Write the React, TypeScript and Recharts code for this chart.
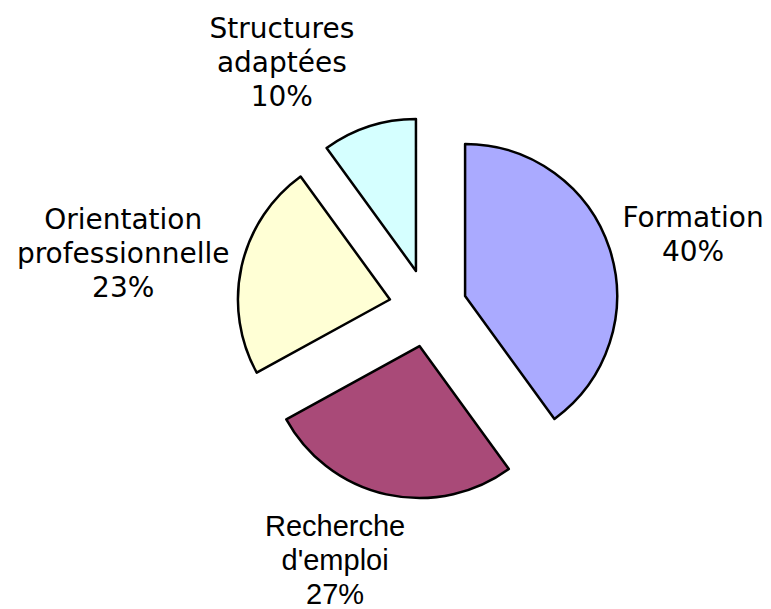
import { PieChart, Pie, Cell } from 'recharts';

// data (shares in %)
const CATEGORIES = ['Formation', "Recherche d'emploi", 'Orientation professionnelle', 'Structures adaptées'];
const SHARES = [40, 27, 23, 10];

const COLORS = ['#aaaaff', '#a94a78', '#ffffd5', '#d5ffff'];
const LABEL_FONTS = ['DejaVu Sans', 'Liberation Sans', 'DejaVu Sans', 'DejaVu Sans'];
const LABEL_SIZES = [28, 29, 28, 28];
// hand nudges, like labels dragged around in the original
const LABEL_NUDGE = [
  [4, -2],
  [-33, 7],
  [7, 0],
  [-59, -7],
];

const WIDTH = 771;
const HEIGHT = 609;
const CX = 428;
const CY = 308;
const RADIUS = 152;
const EXPLODE = 39;
const LABEL_R = 168;
const LINE = 34;

const data = CATEGORIES.map((name, i) => ({ name, value: SHARES[i] }));
const total = SHARES.reduce((a, b) => a + b, 0);

// mid angle of each slice (recharts degrees, start at 12 o'clock, clockwise)
const midAngles = SHARES.map((v, i) => {
  const before = SHARES.slice(0, i).reduce((a, b) => a + b, 0);
  return 90 - (360 * (before + v / 2)) / total;
});

const RAD = Math.PI / 180;

function makeLabel(slice: number) {
  return (props: any) => {
    if (props.index !== slice) return null;
    const { cx, cy, midAngle, outerRadius, percent, name } = props;
    const dx = Math.cos(midAngle * RAD);
    const dy = -Math.sin(midAngle * RAD);
    const lines = [...String(name).split(' '), `${Math.round(percent * 100)}%`];
    const longest = Math.max(...lines.map((l) => l.length));
    const w = longest * 15;
    const h = (lines.length - 1) * LINE + 20;
    const r = outerRadius + (LABEL_R - RADIUS);
    const lx = cx + r * dx + (w / 2) * dx + LABEL_NUDGE[slice][0];
    const ly = cy + r * dy + (h / 2) * dy + LABEL_NUDGE[slice][1];
    const first = ly - ((lines.length - 1) * LINE) / 2 + 10;
    return (
      <text
        textAnchor="middle"
        fontFamily={LABEL_FONTS[slice]}
        fontSize={LABEL_SIZES[slice]}
        fill="#000"
      >
        {lines.map((l, k) => (
          <tspan key={k} x={lx} y={first + k * LINE}>
            {l}
          </tspan>
        ))}
      </text>
    );
  };
}

export default function App() {
  return (
    <div style={{ position: 'absolute', left: 0, top: 0, width: WIDTH, height: HEIGHT, background: '#fff' }}>
      <PieChart width={WIDTH} height={HEIGHT} margin={{ top: 0, right: 0, bottom: 0, left: 0 }}>
        {midAngles.map((mid, s) => (
          <Pie
            key={s}
            data={data}
            dataKey="value"
            nameKey="name"
            cx={CX + EXPLODE * Math.cos(mid * RAD)}
            cy={CY - EXPLODE * Math.sin(mid * RAD)}
            innerRadius={0}
            outerRadius={RADIUS}
            startAngle={90}
            endAngle={-270}
            labelLine={false}
            label={makeLabel(s)}
            isAnimationActive={false}
          >
            {data.map((d, i) => (
              <Cell
                key={d.name}
                fill={i === s ? COLORS[i] : 'none'}
                stroke={i === s ? '#000' : 'none'}
                strokeWidth={2.5}
                strokeLinejoin="round"
              />
            ))}
          </Pie>
        ))}
      </PieChart>
    </div>
  );
}
